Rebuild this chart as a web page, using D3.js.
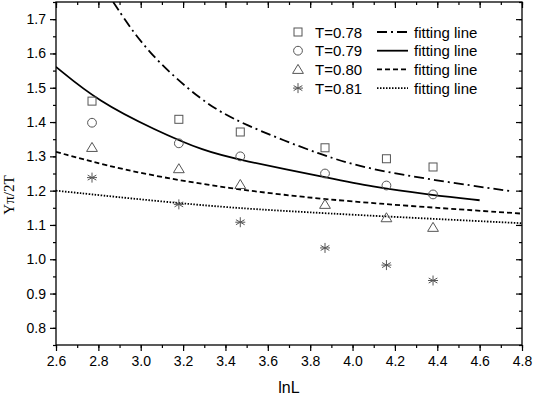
<!DOCTYPE html>
<html>
<head>
<meta charset="utf-8">
<script src="https://cdn.jsdelivr.net/npm/d3@7"></script>
<style>
  body { margin: 0; background: #fff; }
  text { font-family: "Liberation Sans", Arial, sans-serif; fill: #000; }
</style>
</head>
<body>
<div id="chart"></div>
<script>
// lnL of the lattice sizes
var lnL = [2.77, 3.18, 3.47, 3.87, 4.16, 4.38];

var temps = ["T=0.78", "T=0.79", "T=0.80", "T=0.81"];
var shapes = ["square", "circle", "triangle", "star"];
var dashes = ["10,4,2,4", null, "5,3", "1.5,1.5"];

// measured points
var y078 = [1.461, 1.408, 1.371, 1.325, 1.293, 1.269];
var y079 = [1.398, 1.338, 1.300, 1.250, 1.215, 1.189];
var y080 = [1.326, 1.264, 1.218, 1.160, 1.121, 1.093];
var y081 = [1.238, 1.160, 1.108, 1.033, 0.983, 0.938];

// fitting lines
var fit078 = [[2.87, 1.75], [3.025, 1.605], [3.29, 1.459], [3.47, 1.396], [3.87, 1.299], [4.08, 1.263], [4.38, 1.231], [4.74, 1.199]];
var fit079 = [[2.6, 1.561], [2.8, 1.46], [3.07, 1.376], [3.3, 1.315], [3.47, 1.289], [3.88, 1.238], [4.08, 1.212], [4.38, 1.187], [4.6, 1.172]];
var fit080 = [[2.6, 1.313], [2.915, 1.26], [3.3, 1.217], [3.67, 1.187], [4.08, 1.163], [4.8, 1.133]];
var fit081 = [[2.6, 1.2], [3.3, 1.155], [3.7, 1.14], [4.08, 1.127], [4.8, 1.105]];

var xTicks = [2.6, 2.8, 3.0, 3.2, 3.4, 3.6, 3.8, 4.0, 4.2, 4.4, 4.6, 4.8];
var yTicks = [0.8, 0.9, 1.0, 1.1, 1.2, 1.3, 1.4, 1.5, 1.6, 1.7];

var margin = {top: 2, right: 11, bottom: 51, left: 56},
    width = 533 - margin.left - margin.right,
    height = 396 - margin.top - margin.bottom;

var svg = d3.select("#chart").append("svg")
    .attr("width", 533).attr("height", 396)
    .append("g")
    .attr("transform", "translate(" + margin.left + "," + margin.top + ")");

var x = d3.scaleLinear().domain([2.6, 4.8]).range([0, width]);
var y = d3.scaleLinear().domain([0.75, 1.75]).range([height, 0]);

var xMinor = d3.range(26, 49).map(function(d){ return d / 10; });
var yMinor = d3.range(15, 36).map(function(d){ return d / 20; });

function styleAxis(g){
    g.select(".domain").remove();
    g.selectAll("line").attr("stroke", "#000").attr("stroke-width", 1.2);
    g.selectAll("text").style("font-size", "14px");
}

// minor ticks
svg.append("g").attr("transform", "translate(0," + height + ")")
    .call(d3.axisBottom(x).tickValues(xMinor).tickSize(3).tickFormat(""))
    .call(styleAxis);
svg.append("g")
    .call(d3.axisTop(x).tickValues(xMinor).tickSize(-3).tickFormat(""))
    .call(styleAxis);
svg.append("g")
    .call(d3.axisLeft(y).tickValues(yMinor).tickSize(3).tickFormat(""))
    .call(styleAxis);
svg.append("g").attr("transform", "translate(" + width + ",0)")
    .call(d3.axisRight(y).tickValues(yMinor).tickSize(-3).tickFormat(""))
    .call(styleAxis);

// major ticks
svg.append("g").attr("transform", "translate(0," + height + ")")
    .call(d3.axisBottom(x).tickValues(xTicks).tickSize(6).tickPadding(5).tickFormat(d3.format(".1f")))
    .call(styleAxis);
svg.append("g")
    .call(d3.axisTop(x).tickValues(xTicks).tickSize(-6).tickFormat(""))
    .call(styleAxis);
svg.append("g")
    .call(d3.axisLeft(y).tickValues(yTicks).tickSize(6).tickPadding(4).tickFormat(d3.format(".1f")))
    .call(styleAxis);
svg.append("g").attr("transform", "translate(" + width + ",0)")
    .call(d3.axisRight(y).tickValues(yTicks).tickSize(-6).tickFormat(""))
    .call(styleAxis);

// frame
svg.append("rect")
    .attr("width", width).attr("height", height)
    .attr("fill", "none").attr("stroke", "#000").attr("stroke-width", 1.3);

svg.append("clipPath").attr("id", "clip")
    .append("rect").attr("width", width).attr("height", height);

// fitting lines
var line = d3.line()
    .x(function(d){ return x(d[0]); })
    .y(function(d){ return y(d[1]); })
    .curve(d3.curveBasis);

var fits = [fit078, fit079, fit080, fit081];
fits.forEach(function(f, i){
    svg.append("path")
        .attr("clip-path", "url(#clip)")
        .attr("d", line(f))
        .attr("fill", "none")
        .attr("stroke", "#000")
        .attr("stroke-width", 1.8)
        .attr("stroke-dasharray", dashes[i]);
});

// symbols
function drawSymbol(g, shape, cx, cy){
    var c = "#555";
    if (shape === "square") {
        g.append("rect").attr("x", cx - 4).attr("y", cy - 4)
            .attr("width", 8).attr("height", 8)
            .attr("fill", "none").attr("stroke", c).attr("stroke-width", 1);
    } else if (shape === "circle") {
        g.append("circle").attr("cx", cx).attr("cy", cy).attr("r", 4.4)
            .attr("fill", "none").attr("stroke", c).attr("stroke-width", 1);
    } else if (shape === "triangle") {
        g.append("path")
            .attr("d", "M" + cx + "," + (cy - 5) + "L" + (cx + 5.4) + "," + (cy + 4) + "L" + (cx - 5.4) + "," + (cy + 4) + "Z")
            .attr("fill", "none").attr("stroke", c).attr("stroke-width", 1);
    } else {
        var r = 5;
        [90, 30, 150, 0].forEach(function(a){
            var t = a * Math.PI / 180;
            g.append("line")
                .attr("x1", cx - r * Math.cos(t)).attr("y1", cy - r * Math.sin(t))
                .attr("x2", cx + r * Math.cos(t)).attr("y2", cy + r * Math.sin(t))
                .attr("stroke", c).attr("stroke-width", 1);
        });
    }
}

var series = [y078, y079, y080, y081];
var pts = svg.append("g");
series.forEach(function(vals, i){
    vals.forEach(function(v, j){
        drawSymbol(pts, shapes[i], x(lnL[j]), y(v));
    });
});

// legend
var legend = svg.append("g").attr("transform", "translate(242,30)");
temps.forEach(function(t, i){
    var ly = i * 18.7;
    drawSymbol(legend, shapes[i], 0, ly);
    legend.append("text").attr("x", 17).attr("y", ly + 5.5)
        .style("font-size", "15px").text(t);
    legend.append("line")
        .attr("x1", 79).attr("x2", 110).attr("y1", ly).attr("y2", ly)
        .attr("stroke", "#000").attr("stroke-width", 1.8)
        .attr("stroke-dasharray", dashes[i]);
    legend.append("text").attr("x", 116).attr("y", ly + 5.5)
        .style("font-size", "15px").text("fitting line");
});

// axis titles
svg.append("text")
    .attr("x", width / 2).attr("y", height + 48)
    .attr("text-anchor", "middle")
    .style("font-size", "16px")
    .text("lnL");

svg.append("text")
    .attr("transform", "rotate(-90)")
    .attr("x", -193).attr("y", -42)
    .attr("text-anchor", "middle")
    .style("font-family", "'Liberation Serif', 'Times New Roman', serif")
    .style("font-size", "15px")
    .text("Υπ/2T");
</script>
</body>
</html>
